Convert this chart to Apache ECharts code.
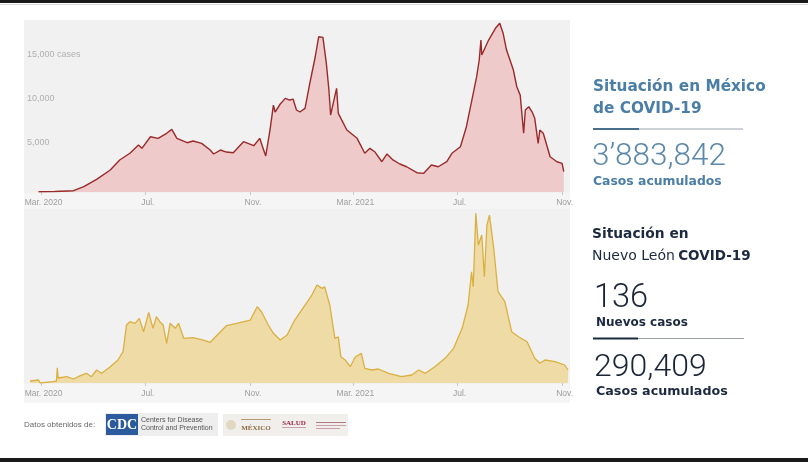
<!DOCTYPE html>
<html>
<head>
<meta charset="utf-8">
<script src="https://cdn.jsdelivr.net/npm/echarts@6/dist/echarts.min.js"></script>
<style>
html,body{margin:0;padding:0;background:#fff;}
#c{width:808px;height:462px;}
</style>
</head>
<body>
<div id="c"></div>
<script>
// x values are days counted from 2020-03-01
const tickDays = [0, 122, 245, 365, 487, 610];
const tickLabels = ['Mar. 2020', 'Jul.', 'Nov.', 'Mar. 2021', 'Jul.', 'Nov.'];
const yTicks = [5000, 10000, 15000];
const yTickLabels = ['5,000', '10,000', '15,000 cases'];

// México daily cases
const mxDay = [-3,16,38,50,65,81,92,104,114,118,128,137,147,153,159,171,178,188,198,202,210,217,225,237,249,256,259,263,268,272,274,280,286,291,295,299,303,309,315,321,325,330,334,337,339,342,346,348,358,370,379,385,391,399,405,412,420,428,440,448,457,465,475,481,491,498,506,510,513,515,516,524,532,537,541,545,553,557,561,565,567,571,575,578,582,584,588,591,596,604,610,612];
const mxCases = [20,60,150,600,1440,2500,3640,4400,5340,4960,6280,6100,6670,7120,6100,5600,5800,5530,4770,4320,4770,4540,4460,5720,5260,6100,5230,4090,7040,9880,9090,10000,10640,10450,10560,9320,9090,9510,12530,15370,17640,17570,14620,11590,8750,10080,11780,8940,7040,6100,4400,4960,4540,3440,4320,3640,3180,2870,2190,2120,3070,2870,3440,4400,5150,7420,11210,13100,15000,17270,15560,17270,18600,19170,18030,16130,13860,11960,11010,6670,9320,9690,9090,8370,5530,7040,6670,5680,4010,3440,3260,2310];

// Nuevo León daily cases
const nlDay = [-13,-3,-1,14,18,19,20,22,30,38,46,53,59,65,71,81,90,96,100,104,110,115,120,126,131,135,139,143,147,151,157,161,167,178,190,198,210,217,229,245,253,258,266,272,280,288,297,309,317,323,329,332,338,344,348,351,356,362,368,375,379,387,395,407,422,434,442,450,461,473,483,493,500,504,506,509,512,516,519,522,525,530,535,543,551,559,569,578,584,590,602,613,617];
const nlCases = [26,39,0,17,26,199,65,61,82,52,95,126,82,169,126,212,299,407,754,797,776,841,667,919,711,862,797,754,516,776,711,776,581,589,559,529,667,745,776,819,992,927,754,646,559,624,819,1014,1144,1274,1231,1252,1014,581,602,342,299,212,342,386,191,169,182,126,82,104,169,126,212,321,451,711,1014,1447,1252,2206,1794,1924,1382,2054,2184,1751,1187,1057,667,602,537,321,256,299,277,234,169];

const pairs = (xs, ys) => xs.map((x, i) => [x, ys[i]]);

const chart = echarts.init(document.getElementById('c'), null, {renderer: 'canvas'});

const HEAD = 'DejaVu Sans, Noto Sans, sans-serif';
const NUM = 'Roboto, sans-serif';

const xAxisBase = (gridIndex) => ({
  type: 'value', gridIndex: gridIndex, min: -13, max: 618,
  axisLine: {show: false},
  splitLine: {show: false},
  axisTick: {show: true, customValues: tickDays, length: 3, inside: false, lineStyle: {color: '#c8c8c8'}},
  axisLabel: {
    customValues: tickDays, color: '#9d9d9d', fontSize: 8.5, margin: 6,
    fontFamily: 'Liberation Sans, Arial, sans-serif', padding: [0, 0, 0, 5],
    formatter: v => { const i = tickDays.indexOf(v); return i >= 0 ? tickLabels[i] : ''; }
  }
});

const option = {
  animation: false,
  backgroundColor: '#ffffff',
  grid: [
    {left: 30, width: 538.9, top: 16, height: 176},
    {left: 30, width: 538.9, top: 210, height: 173}
  ],
  xAxis: [xAxisBase(0), xAxisBase(1)],
  yAxis: [
    {
      type: 'value', gridIndex: 0, min: 0, max: 20000, interval: 5000,
      axisLine: {show: false}, axisTick: {show: false}, splitLine: {show: false},
      axisLabel: {
        inside: true, align: 'left', verticalAlign: 'bottom', margin: -3,
        color: '#b0b0b0', fontSize: 9, fontFamily: 'Liberation Sans, Arial, sans-serif',
        padding: [0, 0, 1, 0],
        formatter: v => { const i = yTicks.indexOf(v); return i >= 0 ? yTickLabels[i] : ''; }
      }
    },
    {
      type: 'value', gridIndex: 1, min: 0, max: 2250,
      axisLine: {show: false}, axisTick: {show: false}, splitLine: {show: false},
      axisLabel: {show: false}
    }
  ],
  series: [
    {
      type: 'line', xAxisIndex: 0, yAxisIndex: 0, data: pairs(mxDay, mxCases),
      showSymbol: false, symbol: 'none',
      lineStyle: {color: '#9a2a2a', width: 1.4},
      areaStyle: {color: '#eecaca', opacity: 1},
      z: 3
    },
    {
      type: 'line', xAxisIndex: 1, yAxisIndex: 1, data: pairs(nlDay, nlCases),
      showSymbol: false, symbol: 'none',
      lineStyle: {color: '#dab041', width: 1.3},
      areaStyle: {color: '#eedba6', opacity: 1},
      z: 3
    }
  ],
  graphic: [
    // page frame bars
    {type: 'rect', shape: {x: 0, y: 0, width: 808, height: 3}, style: {fill: '#1a1a1a'}, z: -20},
    {type: 'rect', shape: {x: 0, y: 4, width: 808, height: 1}, style: {fill: '#d8d8d8'}, z: -20},
    {type: 'rect', shape: {x: 0, y: 458, width: 808, height: 4}, style: {fill: '#1a1a1a'}, z: -20},
    // chart panel
    {type: 'rect', shape: {x: 24, y: 20, width: 546, height: 383}, style: {fill: '#f1f1f1'}, z: -20},
    {type: 'rect', shape: {x: 24, y: 193, width: 546, height: 16}, style: {fill: '#f5f5f5'}, z: -19},
    {type: 'rect', shape: {x: 24, y: 384, width: 546, height: 19}, style: {fill: '#f5f5f5'}, z: -19},

    // México block
    {type: 'text', x: 593, y: 87, style: {text: 'Situación en México', fill: '#4b7ea6', fontSize: 15.3, fontWeight: 'bold', fontFamily: HEAD, verticalAlign: 'middle', align: 'left'}},
    {type: 'text', x: 593, y: 109, style: {text: 'de COVID-19', fill: '#4b7ea6', fontSize: 15.3, fontWeight: 'bold', fontFamily: HEAD, verticalAlign: 'middle', align: 'left'}},
    {type: 'rect', shape: {x: 593, y: 128.5, width: 150, height: 1}, style: {fill: '#9aa6b0'}},
    {type: 'rect', shape: {x: 593, y: 128, width: 46, height: 2}, style: {fill: '#4a6f8d'}},
    {type: 'text', x: 592, y: 157, style: {text: '3\u2019883,842', fill: '#5b88a9', fontSize: 31.5, fontWeight: 300, fontFamily: NUM, verticalAlign: 'middle', align: 'left'}},
    {type: 'text', x: 593, y: 182, style: {text: 'Casos acumulados', fill: '#4b7ea6', fontSize: 12.4, fontWeight: 'bold', fontFamily: HEAD, verticalAlign: 'middle', align: 'left'}},

    // Nuevo León block
    {type: 'text', x: 592, y: 234, style: {text: 'Situación en', fill: '#1c2940', fontSize: 13.8, fontWeight: 'bold', fontFamily: HEAD, verticalAlign: 'middle', align: 'left'}},
    {type: 'text', x: 592, y: 256, style: {
      text: '{r|Nuevo León} {b|COVID-19}', verticalAlign: 'middle', align: 'left',
      rich: {
        r: {fill: '#1c2940', fontSize: 14, fontFamily: HEAD, fontWeight: 'normal'},
        b: {fill: '#1c2940', fontSize: 13.5, fontFamily: HEAD, fontWeight: 'bold'}
      }
    }},
    {type: 'text', x: 594, y: 299, style: {text: '136', fill: '#1c2536', fontSize: 32.5, fontWeight: 300, fontFamily: NUM, verticalAlign: 'middle', align: 'left'}},
    {type: 'text', x: 596, y: 323, style: {text: 'Nuevos casos', fill: '#1c2940', fontSize: 12, fontWeight: 'bold', fontFamily: HEAD, verticalAlign: 'middle', align: 'left'}},
    {type: 'rect', shape: {x: 593, y: 338, width: 151, height: 1}, style: {fill: '#9aa0a8'}},
    {type: 'rect', shape: {x: 593, y: 337.5, width: 45, height: 2}, style: {fill: '#1c2940'}},
    {type: 'text', x: 594, y: 368, style: {text: '290,409', fill: '#1c2536', fontSize: 32, fontWeight: 300, fontFamily: NUM, verticalAlign: 'middle', align: 'left'}},
    {type: 'text', x: 596, y: 392, style: {text: 'Casos acumulados', fill: '#1c2940', fontSize: 12.7, fontWeight: 'bold', fontFamily: HEAD, verticalAlign: 'middle', align: 'left'}},

    // footer
    {type: 'text', x: 24, y: 425, style: {text: 'Datos obtenidos de:', fill: '#666', fontSize: 8, fontFamily: 'Liberation Sans, Arial, sans-serif', verticalAlign: 'middle', align: 'left'}},
    {type: 'rect', shape: {x: 105, y: 413, width: 113, height: 23}, style: {fill: '#eeeeee'}},
    {type: 'rect', shape: {x: 106, y: 414, width: 32, height: 21}, style: {fill: '#2b5b9c'}},
    {type: 'text', x: 122, y: 425, style: {text: 'CDC', fill: '#ffffff', fontSize: 14, fontWeight: 'bold', fontFamily: 'Liberation Serif, serif', verticalAlign: 'middle', align: 'center'}},
    {type: 'text', x: 141, y: 420, style: {text: 'Centers for Disease', fill: '#555', fontSize: 7, fontFamily: 'Liberation Sans, Arial, sans-serif', verticalAlign: 'middle', align: 'left'}},
    {type: 'text', x: 141, y: 428, style: {text: 'Control and Prevention', fill: '#555', fontSize: 7, fontFamily: 'Liberation Sans, Arial, sans-serif', verticalAlign: 'middle', align: 'left'}},
    {type: 'rect', shape: {x: 223, y: 414, width: 125, height: 22}, style: {fill: '#f1efec'}},
    {type: 'circle', shape: {cx: 231, cy: 425, r: 5}, style: {fill: '#e2d7c3'}},
    {type: 'rect', shape: {x: 241, y: 419, width: 30, height: 1}, style: {fill: '#b59a78'}},
    {type: 'text', x: 256, y: 428, style: {text: 'MÉXICO', fill: '#8b6a45', fontSize: 7, fontWeight: 'bold', fontFamily: 'Liberation Serif, serif', verticalAlign: 'middle', align: 'center'}},
    {type: 'text', x: 294, y: 423, style: {text: 'SALUD', fill: '#9b2247', fontSize: 7, fontWeight: 'bold', fontFamily: 'Liberation Serif, serif', verticalAlign: 'middle', align: 'center'}},
    {type: 'rect', shape: {x: 282, y: 427, width: 24, height: 1}, style: {fill: '#c9a0ac'}},
    {type: 'rect', shape: {x: 316, y: 422, width: 30, height: 1}, style: {fill: '#b07a88'}},
    {type: 'rect', shape: {x: 316, y: 425, width: 30, height: 1}, style: {fill: '#c9a0ac'}},
    {type: 'rect', shape: {x: 316, y: 428, width: 24, height: 1}, style: {fill: '#c9a0ac'}}
  ]
};
chart.setOption(option);
</script>
</body>
</html>
